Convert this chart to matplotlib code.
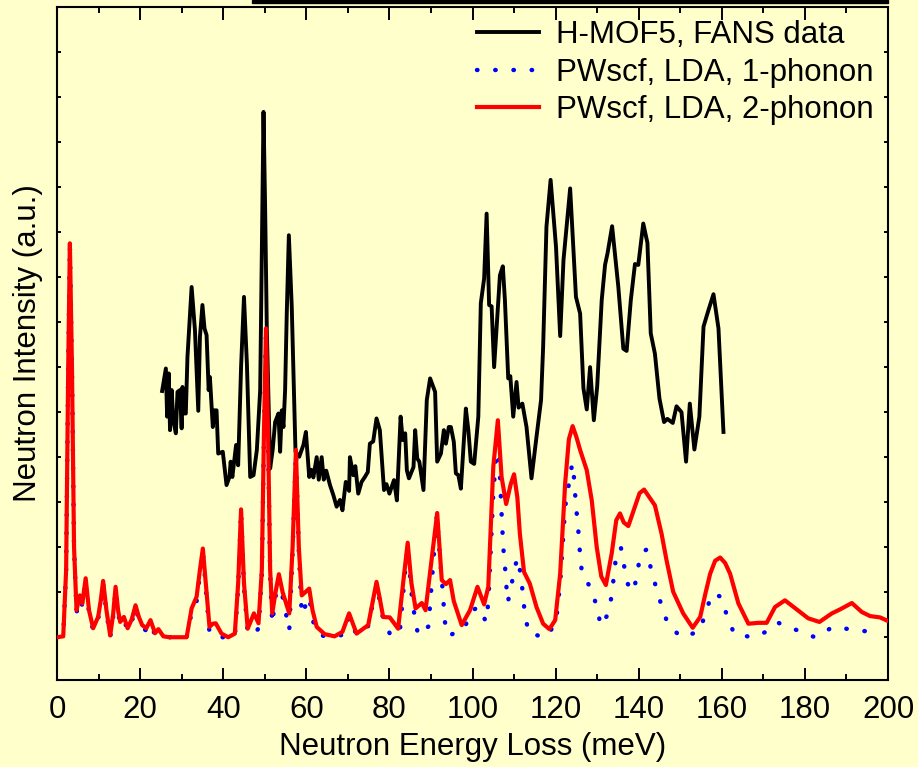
import numpy as np
import matplotlib
matplotlib.use("Agg")
import matplotlib.pyplot as plt
from matplotlib.patches import Rectangle

# INS spectrum of H-MOF5 (FANS) vs. PWscf/LDA calculations
fans_e = [25.3, 26.2, 26.5, 26.9, 27.2, 27.6, 28.0, 28.6, 29.0, 29.6, 30.0, 30.2, 30.7, 31.0,
          31.4, 32.4, 33.2, 34.0, 34.4, 35.0, 35.5, 36.0, 36.5, 36.8, 37.5, 37.9, 38.4, 38.8,
          39.9, 40.8, 41.5, 41.8, 42.2, 43.1, 43.6, 44.3, 45.0, 45.7, 46.5, 47.3, 48.1, 48.9,
          49.3, 49.7, 50.1, 50.5, 51.3, 51.9, 52.5, 53.3, 53.7, 54.1, 54.5, 54.9, 55.3, 55.8,
          56.5, 57.4, 58.3, 59.3, 59.9, 60.7, 61.2, 61.7, 62.5, 63.0, 63.7, 64.2, 64.8, 65.7,
          66.5, 67.3, 68.1, 68.7, 69.5, 70.3, 70.5, 71.3, 71.8, 72.5, 73.3, 74.1, 74.8, 75.3,
          76.1, 76.9, 77.7, 78.7, 79.3, 80.0, 81.1, 81.8, 82.7, 83.2, 83.8, 84.2, 84.7, 85.8,
          86.2, 86.7, 87.2, 88.2, 89.0, 89.8, 91.0, 91.5, 92.4, 93.1, 93.6, 94.3, 94.8, 95.5,
          96.0, 96.6, 97.2, 98.4, 99.0, 99.6, 100.4, 101.4, 102.0, 102.8, 103.4, 104.0, 104.6,
          105.2, 106.6, 107.3, 107.8, 108.6, 109.1, 109.8, 110.6, 111.1, 112.0, 113.0, 114.2,
          115.4, 116.5, 117.0, 117.8, 118.8, 120.1, 121.1, 121.9, 123.5, 124.9, 125.9, 126.7,
          127.5, 128.3, 129.2, 130.0, 131.1, 131.9, 132.5, 133.6, 135.1, 136.3, 137.1, 138.1,
          139.1, 139.9, 141.1, 142.1, 142.9, 143.9, 145.0, 146.1, 146.9, 148.2, 149.1, 150.3,
          151.4, 152.3, 153.4, 154.6, 155.6, 156.8, 158.0, 159.2, 160.4]
fans_i = [5.47, 5.97, 4.90, 5.86, 4.60, 5.49, 4.82, 4.53, 5.45, 5.49, 4.64, 5.56, 4.97, 4.97,
          6.23, 7.78, 6.82, 5.03, 6.67, 7.38, 6.86, 6.71, 5.49, 5.78, 4.67, 5.04, 5.04, 4.08,
          4.12, 3.38, 3.56, 3.90, 3.56, 4.27, 3.82, 6.00, 7.56, 6.08, 3.56, 3.60, 4.16, 5.49,
          8.50, 11.67, 9.50, 6.82, 3.75, 4.16, 4.78, 4.97, 4.12, 5.04, 4.67, 5.49, 7.20, 8.93,
          7.34, 4.12, 4.01, 4.27, 4.56, 3.56, 3.72, 3.55, 4.00, 3.50, 4.00, 3.50, 3.70, 3.38,
          3.16, 2.90, 3.05, 2.82, 3.45, 3.25, 4.00, 3.60, 3.80, 3.19, 3.45, 3.56, 3.67, 4.30,
          4.35, 4.86, 4.60, 3.27, 3.40, 3.19, 3.49, 3.04, 4.90, 4.38, 4.53, 3.71, 3.53, 3.78,
          4.60, 3.97, 3.90, 3.27, 5.27, 5.75, 5.45, 3.90, 4.08, 4.60, 4.30, 4.67, 4.67, 4.34,
          3.64, 3.60, 3.30, 5.08, 4.60, 3.90, 3.85, 4.90, 7.42, 7.97, 9.41, 7.38, 7.35,
          6.00, 8.04, 8.24, 7.49, 5.75, 5.80, 4.90, 5.67, 5.10, 5.19, 4.67, 3.53,
          4.45, 5.27, 6.45, 9.12, 10.16, 8.67, 6.69, 8.38, 9.97, 7.56, 7.19, 5.53,
          5.06, 6.00, 4.82, 5.56, 7.49, 8.27, 8.53, 9.13, 7.78, 6.41, 6.36, 7.49,
          8.29, 8.27, 9.19, 8.76, 6.75, 6.30, 5.30, 4.78, 4.85, 4.76, 5.13, 5.00,
          3.90, 5.19, 4.17, 4.90, 6.90, 7.27, 7.62, 6.86, 4.56]

ph1_e = [0.0, 1.5, 2.2, 2.7, 3.1, 3.6, 4.1, 4.7, 5.5, 6.1, 6.9, 7.7, 8.7, 9.9, 10.5, 11.1,
         11.9, 12.8, 13.5, 14.1, 14.7, 15.2, 16.1, 17.0, 18.0, 18.9, 19.7, 20.5, 21.5, 22.5,
         23.6, 25.0, 31.2, 32.4, 33.6, 34.4, 35.1, 35.8, 36.7, 38.0, 42.8, 43.6, 44.3, 45.0,
         45.9, 47.4, 48.5, 49.3, 49.8, 50.3, 50.8, 51.3, 51.8, 52.6, 53.4, 54.3, 55.9, 56.7,
         57.5, 58.2, 58.9, 60.7, 61.5, 62.5, 64.8, 68.7, 70.3, 72.1, 74.9, 76.0, 76.9, 77.6,
         78.5, 80.5, 82.6, 83.8, 84.4, 85.3, 86.3, 87.0, 89.4, 90.5, 91.4, 92.6, 93.0, 93.2,
         94.2, 98.0, 99.8, 101.8, 103.2, 103.8, 105.0, 106.1, 106.6, 107.0, 107.4, 107.8,
         108.1, 108.5, 109.4, 110.1, 111.0, 111.7, 112.2, 112.6, 113.6, 117.8, 120.1, 121.1,
         122.3, 124.0, 124.5, 124.8, 125.2, 125.6, 125.9, 126.4, 128.7, 129.9, 130.9, 132.7,
         133.5, 134.5, 135.7, 136.5, 137.4, 138.7, 139.7, 140.3, 141.9, 142.9, 144.2, 145.5,
         147.1, 150.3, 154.6, 156.2, 157.6, 159.8, 161.2, 163.0, 167.4, 172.0, 173.6, 178.0,
         182.4, 186.8, 191.4, 195.8]
ph1_i = [0.0, 0.02, 1.5, 6.0, 8.7, 6.0, 2.0, 0.55, 0.85, 0.70, 1.25, 0.55, 0.15, 0.40, 0.75, 1.20,
         0.55, 0.0, 0.45, 1.05, 0.55, 0.30, 0.40, 0.15, 0.35, 0.65, 0.40, 0.20, 0.15, 0.30,
         0.05, 0.0, 0.0, 0.55, 0.80, 1.40, 1.90, 1.10, 0.10, 0.0, 0.0, 1.10, 2.80, 1.10,
         0.10, 0.05, 0.20, 1.40, 4.40, 6.80, 4.40, 1.40, 0.30, 0.90, 1.30, 0.90, 0.15, 1.90,
         4.10, 1.90, 0.50, 0.90, 0.40, 0.10, 0.0, 0.05, 0.45, 0.05, 0.25, 0.75, 1.15, 0.85,
         0.40, 0.0, 0.22, 1.49, 2.00, 1.00, 0.30, 0.04, 0.24, 1.60, 2.70, 1.27, 0.86, 0.40,
         0.03, 0.19, 0.60, 0.67, 0.34, 0.75, 3.20, 4.53, 3.60, 2.75, 2.00, 1.60,
         1.19, 0.78, 1.16, 1.56, 1.76, 1.30, 0.91, 0.49, 0.08, 0.0, 0.34, 1.20,
         2.90, 3.86, 3.49, 3.04, 2.64, 2.23, 1.81, 1.38, 1.07, 0.67, 0.25, 0.53,
         0.93, 1.75, 2.00, 1.58, 1.18, 1.01, 1.41, 1.84, 1.95, 1.54, 1.10, 0.70,
         0.27, 0.0, 0.13, 0.56, 0.97, 0.90, 0.49, 0.07, 0.0, 0.17, 0.32, 0.16,
         0.0, 0.23, 0.17, 0.12]

ph2_e = [0.0, 1.5, 2.2, 2.7, 3.1, 3.6, 4.1, 4.7, 5.5, 6.1, 6.9, 7.7, 8.7, 9.9, 10.5, 11.1,
         11.9, 12.8, 13.5, 14.1, 14.7, 15.2, 16.1, 17.0, 18.0, 18.9, 19.7, 20.5, 21.5, 22.5,
         23.6, 24.4, 25.6, 27.0, 31.2, 32.4, 33.6, 34.4, 35.1, 35.8, 36.7, 37.5, 38.2, 39.6,
         41.2, 42.8, 43.6, 44.3, 45.0, 45.9, 47.4, 48.5, 49.3, 49.8, 50.3, 50.8, 51.3, 51.8,
         52.6, 53.4, 54.3, 55.9, 56.7, 57.5, 58.2, 58.9, 60.7, 61.5, 62.5, 64.4, 66.8, 68.7,
         70.3, 72.1, 74.9, 76.0, 76.9, 77.6, 78.5, 80.1, 82.1, 83.3, 84.4, 85.3, 86.3, 87.8,
         88.7, 90.0, 91.5, 92.6, 93.6, 94.6, 95.5, 97.4, 99.4, 101.2, 102.8, 103.8, 105.0,
         106.1, 107.0, 108.1, 109.2, 110.0, 110.8, 111.4, 112.4, 113.8, 115.4, 117.0, 118.5,
         119.9, 121.1, 122.3, 123.2, 124.1, 125.0, 125.9, 127.5, 128.7, 129.9, 131.0, 132.1,
         133.5, 134.6, 135.5, 136.4, 137.5, 139.1, 140.2, 141.3, 142.5, 143.9, 145.5, 146.7,
         148.3, 150.7, 153.0, 154.8, 156.0, 157.2, 158.4, 159.6, 160.8, 162.0, 164.0, 166.4,
         168.8, 170.8, 172.8, 175.2, 178.0, 180.8, 183.5, 186.5, 188.5, 191.3, 193.7, 195.7,
         198.1, 200.0]
ph2_i = [0.0, 0.02, 1.5, 6.0, 8.75, 6.0, 2.0, 0.60, 0.93, 0.75, 1.31, 0.60, 0.20, 0.45, 0.80, 1.25,
         0.60, 0.04, 0.50, 1.12, 0.60, 0.34, 0.45, 0.20, 0.40, 0.71, 0.45, 0.27, 0.20, 0.38,
         0.09, 0.18, 0.02, 0.0, 0.0, 0.64, 0.90, 1.50, 1.97, 1.20, 0.23, 0.30, 0.31, 0.08,
         0.0, 0.08, 1.20, 2.84, 1.20, 0.19, 0.53, 0.31, 1.50, 4.50, 6.86, 4.50, 1.50, 0.53,
         1.00, 1.40, 1.00, 0.53, 2.00, 4.16, 2.00, 0.93, 1.08, 0.60, 0.23, 0.07, 0.02, 0.12,
         0.53, 0.08, 0.27, 0.80, 1.23, 0.90, 0.45, 0.44, 0.19, 1.20, 2.10, 1.20, 0.64, 0.76,
         0.60, 1.60, 2.76, 1.27, 1.18, 1.27, 0.80, 0.27, 0.60, 1.12, 0.73, 1.12, 3.78,
         4.82, 3.56, 2.96, 3.40, 3.62, 3.10, 2.30, 1.45, 1.19, 0.67, 0.30, 0.18,
         0.38, 1.41, 3.42, 4.40, 4.69, 4.45, 4.16, 3.71, 3.04, 2.00, 1.35, 1.16,
         1.86, 2.60, 2.75, 2.55, 2.47, 2.90, 3.20, 3.28, 3.12, 2.93, 2.30, 1.71,
         1.01, 0.53, 0.21, 0.45, 0.95, 1.41, 1.70, 1.77, 1.65, 1.41, 0.75, 0.30,
         0.32, 0.32, 0.67, 0.82, 0.62, 0.42, 0.34, 0.53, 0.62, 0.76, 0.56, 0.47,
         0.44, 0.36]

labels = ["H-MOF5, FANS data", "PWscf, LDA, 1-phonon", "PWscf, LDA, 2-phonon"]

bg = "#FFFFCC"
plt.rcParams["font.family"] = ["Liberation Sans", "DejaVu Sans"]
plt.rcParams["font.size"] = 22.5

fig = plt.figure(figsize=(9.18, 7.67), dpi=100, facecolor=bg)
ax = fig.add_axes([57 / 918, 1 - 680 / 767, 831 / 918, 673 / 767], facecolor=bg)

# red drawn last so it sits on top of the other two
ax.plot(fans_e, fans_i, color="black", lw=2.8, label=labels[0], zorder=2)
ax.plot(ph1_e, ph1_i, color="blue", lw=3.2, dashes=(0.1, 4.0),
        dash_capstyle="round", label=labels[1], zorder=1)
ax.plot(ph2_e, ph2_i, color="red", lw=3.0, label=labels[2], zorder=3)

ax.set_xlim(0, 200)
ax.set_ylim(-0.95, 14.0)
ax.set_xticks(np.arange(0, 201, 20))
ax.set_xticks(np.arange(10, 200, 20), minor=True)
ax.set_yticks(np.arange(0, 15, 1))
ax.tick_params(axis="x", which="major", direction="in", length=9, width=1.4,
               top=True, pad=11)
ax.tick_params(axis="x", which="minor", direction="in", length=4.5, width=1.4, top=True)
ax.tick_params(axis="y", direction="in", length=3, width=1.4, right=True, labelleft=False)
for s in ax.spines.values():
    s.set_linewidth(1.5)

ax.set_xlabel("Neutron Energy Loss (meV)", labelpad=5)
ax.set_ylabel("Neutron Intensity (a.u.)", labelpad=10)

leg = ax.legend(loc="upper left", bbox_to_anchor=(0.505, 0.981), frameon=False,
                handlelength=2.0, handletextpad=0.55, labelspacing=0.25,
                borderpad=0, borderaxespad=0)

# strip left over from the header above the frame
fig.patches.append(Rectangle((252 / 918, 1 - 3 / 767), 636 / 918, 3 / 767,
                             transform=fig.transFigure, color="black", zorder=5))

fig.savefig("out.png", dpi=100, facecolor=bg)
